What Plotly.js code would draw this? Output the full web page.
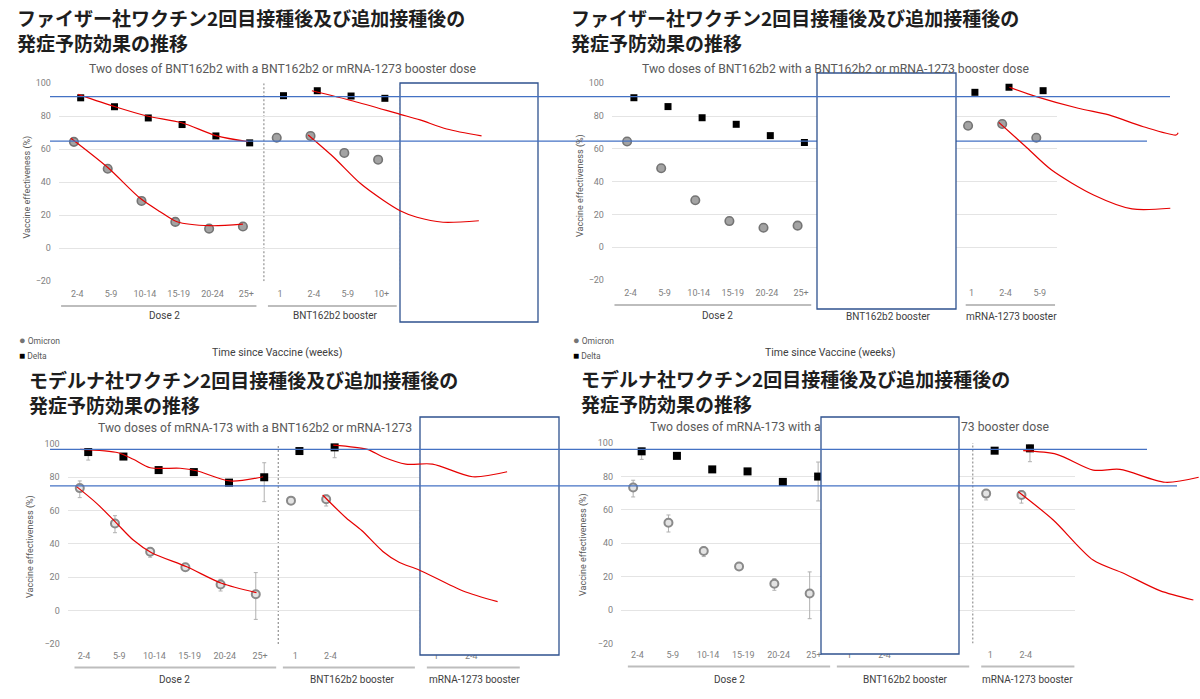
<!DOCTYPE html>
<html><head><meta charset="utf-8">
<script src="https://cdn.plot.ly/plotly-3.0.1.min.js"></script>
<style>html,body{margin:0;padding:0;background:#fff}#chart{width:1200px;height:699px}</style>
</head><body><div id="chart"></div>
<script>
// ================= DATA =================
const dose2Cats = ['2-4','5-9','10-14','15-19','20-24','25+'];
const bntBoosterCatsTop = ['1','2-4','5-9','10+'];
const mrnaBoosterCatsTop = ['1','2-4','5-9'];
const bntBoosterCatsBottom = ['1','2-4','',''];
const mrnaBoosterCatsBottom = ['1','2-4',''];
const groupNames = ['Dose 2','BNT162b2 booster','mRNA-1273 booster'];
const seriesNames = ['Omicron','Delta'];

// top charts: two doses of BNT162b2 (Dose 2, BNT162b2 booster, mRNA-1273 booster)
const omicronTop = [64.5,48.2,28.7,16.0,11.9,13.2, 67.0,68.1,57.8,53.7, 74.1,75.2,66.8];
const deltaTop   = [91.2,85.8,79.0,75.0,68.1,63.9, 92.5,95.5,92.3,90.9, 94.5,97.6,95.5];

// bottom charts: two doses of mRNA-1273
const omicronBottom   = [73.4,52.2,35.3,26.0,15.7,9.9, 65.9,66.7,null,null, 69.7,68.9,null];
const omicronBottomHi = [77.7,56.9,37.7,28.0,18.8,22.8, 68.0,69.3,null,null, 71.9,71.4,null];
const omicronBottomLo = [67.7,46.7,32.0,24.0,11.8,-5.2, 63.8,62.7,null,null, 65.9,64.0,null];
const deltaBottom     = [95.0,92.3,84.2,83.0,76.7,79.9, 95.6,97.8,null,null, 95.4,96.8,null];
const deltaBottomHi   = [97.0,93.5,85.5,84.2,78.0,88.6, 97.2,99.8,null,null, 97.0,98.8,null];
const deltaBottomLo   = [90.2,91.0,83.0,81.8,75.4,65.3, 94.0,91.6,null,null, 93.8,88.8,null];

// red hand-drawn trend curves (category-index units, VE %)
const p1RedDeltaX = [0.02,1.12,2.06,3.09,4.13,5.05];
const p1RedDeltaY = [93.3,85.8,80.2,76.1,68.1,64.6];
const p1RedOmiX = [-0.19,0.91,1.86,2.45,2.95,3.93,4.9];
const p1RedOmiY = [66.7,48.8,30.3,22.2,16.1,13.7,14.7];
const p1RedBoostDeltaX = [6.94,8.16,9.55,10.14,10.93,11.96];
const p1RedBoostDeltaY = [95.5,89.3,81.2,77.8,72.3,68.1];
const p1RedBoostOmiX = [6.83,7.57,8.37,9.04,9.55,10.05,10.82,11.88];
const p1RedBoostOmiY = [68.7,55.5,39.4,29.3,22.8,18.8,15.8,16.7];

const p2RedDeltaX = [11.11,11.9,13.13,14.03,15.04,16.0,16.06];
const p2RedDeltaY = [97.6,91.9,84.8,80.7,73.5,68.5,69.9];
const p2RedOmiX = [10.8,11.57,12.35,13.58,14.71,15.83];
const p2RedOmiY = [76.2,61.8,47.1,31.9,23.4,23.8];

const p3RedDeltaX = [-0.11,0.97,1.4,1.88,2.73,3.2,4.15,5.09];
const p3RedDeltaY = [96.6,94.6,90.7,85.6,85.3,83.8,77.7,80.2];
const p3RedOmiX = [-0.21,0.36,0.93,1.4,1.92,2.92,3.91,4.9];
const p3RedOmiY = [74.3,64.3,52.3,42.3,34.7,26.3,16.4,10.8];
const p3RedBoostDeltaX = [7.08,8.05,8.48,9.14,9.9,11.04,12.02];
const p3RedBoostDeltaY = [99.2,96.6,92.2,87.8,87.8,80.2,83.2];
const p3RedBoostOmiX = [6.78,7.45,7.89,8.49,8.95,9.52,10.77,11.75];
const p3RedBoostOmiY = [69.3,55.5,48.0,35.5,29.0,24.4,11.8,5.4];

const p4RedDeltaX = [10.93,11.88,12.91,13.67,14.95,15.9];
const p4RedDeltaY = [95.4,93.2,83.8,84.2,76.5,79.5];
const p4RedOmiX = [10.79,11.78,12.91,13.77,14.8,15.75];
const p4RedOmiY = [70.8,53.9,29.9,22.0,11.6,6.0];

// blue reference levels (VE %)
const topLevels = [91.9, 65.0];
const bottomLevels = [96.6, 74.7];

// text
const titlePfizer = 'ファイザー社ワクチン2回目接種後及び追加接種後の';
const titleModerna = 'モデルナ社ワクチン2回目接種後及び追加接種後の';
const titleLine2 = '発症予防効果の推移';
const subTop = 'Two doses of BNT162b2 with a BNT162b2 or mRNA-1273 booster dose';
const subBottomLeft = 'Two doses of mRNA-173 with a BNT162b2 or mRNA-1273';
const subBottomRightA = 'Two doses of mRNA-173 with a';
const subBottomRightB = '73 booster dose';
const yTitle = 'Vaccine effectiveness (%)';
const xTitle = 'Time since Vaccine (weeks)';

// ================= GEOMETRY (pixels) =================
const W = 1200, H = 699;
const G = {
  p1:{c0:77.3, s:33.8, L:58.7, R:499.8, y0:248.3, k:1.65, oL:45, oT:55, oB:345, sep:[5.52,9.56]},
  p2:{c0:630.5,s:34.1, L:611.7,R:1056.8,y0:247.3, k:1.64, oL:600,oT:55, oB:345, sep:[5.52,9.5]},
  p3:{c0:84,   s:35.2, L:67.5, R:520.5, y0:610.7, k:1.67, oL:45, oT:410,oB:699, sep:[5.52,9.56]},
  p4:{c0:637.4,s:35.3, L:620.8,R:1075.1,y0:610.0, k:1.67, oL:600,oT:410,oB:699, sep:[5.5,9.5]}
};
const dx = (g,px)=>(px-g.c0)/g.s;
const dy = (g,py)=>(g.y0-py)/g.k;
const pyOf = (g,v)=>g.y0 - g.k*v;

const FONT = 'Roboto, "Noto Sans", sans-serif';
const JFONT = '"Noto Sans CJK JP", "Noto Sans", sans-serif';

const catsTop = dose2Cats.concat(bntBoosterCatsTop, mrnaBoosterCatsTop);
const catsBottom = dose2Cats.concat(bntBoosterCatsBottom, mrnaBoosterCatsBottom);
const idx = catsTop.map((_,i)=>i);

function mainX(g, cats, anchor, ticklen){
  return {domain:[g.L/W, g.R/W], range:[dx(g,g.L), dx(g,g.R)], anchor:anchor,
    tickmode:'array', tickvals:cats.map((_,i)=>i), ticktext:cats,
    showgrid:false, zeroline:false, showline:false,
    ticks:'outside', ticklen:ticklen, tickcolor:'rgba(0,0,0,0)',
    tickfont:{family:FONT, size:9, color:'#7f7f7f'}, fixedrange:true};
}
function mainY(g, anchor){
  const T = pyOf(g,100), B = pyOf(g,-20);
  return {domain:[1-B/H, 1-T/H], range:[-20,100], anchor:anchor,
    tickmode:'array', tickvals:[-20,0,20,40,60,80,100],
    showgrid:true, gridcolor:'#e4e4e4', gridwidth:1, zeroline:false, showline:false,
    ticks:'outside', ticklen:5, tickcolor:'rgba(0,0,0,0)',
    tickfont:{family:FONT, size:9, color:'#7f7f7f'}, fixedrange:true};
}
function ovX(g, anchor){ return {domain:[g.oL/W, 1], range:[dx(g,g.oL), dx(g,W)], anchor:anchor, visible:false, fixedrange:true}; }
function ovY(g, anchor){ return {domain:[1-g.oB/H, 1-g.oT/H], range:[dy(g,g.oB), dy(g,g.oT)], anchor:anchor, visible:false, fixedrange:true}; }

// ================= TRACES =================
const OFF = 0.1;
const OMI_TOP = {fill:'#a3a3a3', line:'#747474'};
const traces = [];
function topPoints(xa, ya){
  traces.push({type:'scatter', mode:'markers', name:seriesNames[0], x:idx.map(i=>i-OFF), y:omicronTop,
    xaxis:xa, yaxis:ya, showlegend:false, cliponaxis:false,
    marker:{symbol:'circle', size:8.5, color:OMI_TOP.fill, line:{color:OMI_TOP.line, width:1.6}}});
  traces.push({type:'scatter', mode:'markers', name:seriesNames[1], x:idx.map(i=>i+OFF), y:deltaTop,
    xaxis:xa, yaxis:ya, showlegend:false, cliponaxis:false,
    marker:{symbol:'square', size:7, color:'#000000'}});
}
function err(v, hi, lo){
  return {type:'data', symmetric:false, array:v.map((d,i)=>d==null?null:hi[i]-d),
    arrayminus:v.map((d,i)=>d==null?null:d-lo[i]), color:'#b0b0b0', thickness:1, width:2};
}
function bottomPoints(xa, ya){
  traces.push({type:'scatter', mode:'markers', name:seriesNames[0], x:idx.map(i=>i-0.12), y:omicronBottom,
    xaxis:xa, yaxis:ya, showlegend:false, cliponaxis:false,
    error_y:err(omicronBottom, omicronBottomHi, omicronBottomLo),
    marker:{symbol:'circle', size:8, color:'#e3e3e3', line:{color:'#8a8a8a', width:2}}});
  traces.push({type:'scatter', mode:'markers', name:seriesNames[1], x:idx.map(i=>i+0.12), y:deltaBottom,
    xaxis:xa, yaxis:ya, showlegend:false, cliponaxis:false,
    error_y:err(deltaBottom, deltaBottomHi, deltaBottomLo),
    marker:{symbol:'square', size:8, color:'#000000'}});
}
function red(x, y, xa, ya){
  traces.push({type:'scatter', mode:'lines', x:x, y:y, xaxis:xa, yaxis:ya, showlegend:false,
    hoverinfo:'skip', line:{color:'#e60000', width:1.2, shape:'spline', smoothing:0.8}});
}
topPoints('x','y');
topPoints('x2','y2');
bottomPoints('x3','y3');
bottomPoints('x4','y4');
red(p1RedDeltaX,p1RedDeltaY,'x5','y5'); red(p1RedOmiX,p1RedOmiY,'x5','y5');
red(p1RedBoostDeltaX,p1RedBoostDeltaY,'x5','y5'); red(p1RedBoostOmiX,p1RedBoostOmiY,'x5','y5');
red(p2RedDeltaX,p2RedDeltaY,'x6','y6'); red(p2RedOmiX,p2RedOmiY,'x6','y6');
red(p3RedDeltaX,p3RedDeltaY,'x7','y7'); red(p3RedOmiX,p3RedOmiY,'x7','y7');
red(p3RedBoostDeltaX,p3RedBoostDeltaY,'x7','y7'); red(p3RedBoostOmiX,p3RedBoostOmiY,'x7','y7');
red(p4RedDeltaX,p4RedDeltaY,'x8','y8'); red(p4RedOmiX,p4RedOmiY,'x8','y8');

// ================= SHAPES =================
const shapes = [];
function groupLine(xa, a, b, py){
  shapes.push({type:'line', xref:xa, yref:'paper', x0:a, x1:b, y0:1-py/H, y1:1-py/H, layer:'below',
    line:{color:'#bdbdbd', width:2}});
}
groupLine('x',-0.48,5.3,306); groupLine('x',5.64,9.45,306); groupLine('x',9.8,12.45,306);
groupLine('x2',-0.47,5.3,305); groupLine('x2',5.64,9.45,305); groupLine('x2',9.83,12.45,305);
groupLine('x3',-0.27,5.46,667.5); groupLine('x3',5.65,9.4,667.5); groupLine('x3',9.74,12.38,667.5);
groupLine('x4',-0.27,5.46,666.5); groupLine('x4',5.65,9.4,666.5); groupLine('x4',9.74,12.38,666.5);
[['',G.p1],['2',G.p2],['3',G.p3],['4',G.p4]].forEach(([n,g])=>{
  g.sep.forEach(v=>{
    shapes.push({type:'line', xref:'x'+n, yref:'y'+n, x0:v, x1:v, y0:-20, y1:100, layer:'below',
      line:{color:'#9a9a9a', width:1.3, dash:'2px,2px'}});
  });
});
function box(g, ax, x0, y0, x1, y1){
  shapes.push({type:'rect', xref:'x'+ax, yref:'y'+ax, layer:'below',
    x0:dx(g,x0), x1:dx(g,x1), y0:dy(g,y1), y1:dy(g,y0),
    fillcolor:'#ffffff', line:{color:'#2f528f', width:1.3}});
}
const BLUE = '#4472c4';
box(G.p1, '5', 400, 83, 538, 322);
(function(){
  const py = pyOf(G.p1, topLevels[1]);
  shapes.push({type:'line', xref:'x6', yref:'y6', layer:'below', x0:dx(G.p2,600), x1:dx(G.p2,1147),
    y0:dy(G.p2,py), y1:dy(G.p2,py), line:{color:BLUE, width:1.2}});
})();
box(G.p2, '6', 817, 73, 956, 309);
box(G.p3, '7', 420, 417, 559, 655);
box(G.p4, '8', 821, 417, 959, 654);
shapes.push({type:'line', xref:'paper', yref:'y', x0:50/W, x1:1170/W, y0:topLevels[0], y1:topLevels[0], layer:'above', line:{color:BLUE, width:1.2}});
shapes.push({type:'line', xref:'paper', yref:'y', x0:50/W, x1:600/W, y0:topLevels[1], y1:topLevels[1], layer:'above', line:{color:BLUE, width:1.2}});
shapes.push({type:'line', xref:'paper', yref:'y3', x0:50/W, x1:1147/W, y0:bottomLevels[0], y1:bottomLevels[0], layer:'above', line:{color:BLUE, width:1.2}});
shapes.push({type:'line', xref:'paper', yref:'y3', x0:50/W, x1:1177/W, y0:bottomLevels[1], y1:bottomLevels[1], layer:'above', line:{color:BLUE, width:1.2}});

// ================= ANNOTATIONS =================
const annotations = [];
function ann(text, x, y, o){
  annotations.push(Object.assign({text:text, x:x/W, y:1-y/H, xref:'paper', yref:'paper', showarrow:false,
    xanchor:'center', yanchor:'middle', font:{family:FONT, size:10, color:'#404040'}}, o||{}));
}
const tF = {family:JFONT, size:19, color:'#1e1e1e'};
function title(line1, x, yMid){
  ann('<b>'+line1+'</b><br><b>'+titleLine2+'</b>', x, yMid, {xanchor:'left', align:'left', font:tF});
}
title(titlePfizer, 15, 29.5);
title(titlePfizer, 569, 29.5);
title(titleModerna, 27, 391.7);
title(titleModerna, 579, 390.7);

const sF = {family:FONT, size:12.2, color:'#595959'};
ann(subTop, 283, 69, {font:sF});
ann(subTop, 836, 69, {font:sF});
ann(subBottomLeft, 96, 428, {xanchor:'left', font:sF});
ann(subBottomRightA, 648, 427, {xanchor:'left', font:sF});
ann(subBottomRightB, 959, 427, {xanchor:'left', font:sF});

const yF = {family:FONT, size:9, color:'#595959'};
ann(yTitle, 26.5, 187, {textangle:-90, font:yF});
ann(yTitle, 580, 186, {textangle:-90, font:yF});
ann(yTitle, 30, 547, {textangle:-90, font:yF});
ann(yTitle, 583, 545, {textangle:-90, font:yF});

const xF = {family:FONT, size:10.5, color:'#404040'};
ann(xTitle, 277, 352, {font:xF});
ann(xTitle, 830, 352, {font:xF});

const gF = {family:FONT, size:10, color:'#404040'};
ann(groupNames[0], 164, 316, {font:gF});
ann(groupNames[1], 335, 316, {font:gF});
ann(groupNames[0], 717, 315.5, {font:gF});
ann(groupNames[1], 888, 316.5, {font:gF});
ann(groupNames[2], 1011, 316.5, {font:gF});
ann(groupNames[0], 174, 679, {font:gF});
ann(groupNames[1], 352, 679, {font:gF});
ann(groupNames[2], 474, 679, {font:gF});
ann(groupNames[0], 729, 679, {font:gF});
ann(groupNames[1], 905, 679, {font:gF});
ann(groupNames[2], 1027, 679, {font:gF});

// series keys under the top charts
const lF = {family:FONT, size:8.5, color:'#595959'};
[[17,340.5],[571,340.5]].forEach(([x,y])=>{
  ann('<span style="color:'+OMI_TOP.line+';font-size:11px">●</span> '+seriesNames[0], x, y, {xanchor:'left', font:lF});
  ann('<span style="color:#000;font-size:10px">■</span> '+seriesNames[1], x, y+15, {xanchor:'left', font:lF});
});

// ================= LAYOUT =================
const layout = {
  width:W, height:H, margin:{l:0,r:0,t:0,b:0}, paper_bgcolor:'#ffffff', plot_bgcolor:'rgba(0,0,0,0)',
  showlegend:false,
  xaxis:mainX(G.p1, catsTop, 'y', 4),  yaxis:mainY(G.p1, 'x'),
  xaxis2:mainX(G.p2, catsTop, 'y2', 4), yaxis2:mainY(G.p2, 'x2'),
  xaxis3:mainX(G.p3, catsBottom, 'y3', 3), yaxis3:mainY(G.p3, 'x3'),
  xaxis4:mainX(G.p4, catsBottom, 'y4', 3), yaxis4:mainY(G.p4, 'x4'),
  xaxis5:ovX(G.p1,'y5'), yaxis5:ovY(G.p1,'x5'),
  xaxis6:ovX(G.p2,'y6'), yaxis6:ovY(G.p2,'x6'),
  xaxis7:ovX(G.p3,'y7'), yaxis7:ovY(G.p3,'x7'),
  xaxis8:ovX(G.p4,'y8'), yaxis8:ovY(G.p4,'x8'),
  shapes:shapes, annotations:annotations, hovermode:false
};
Plotly.newPlot('chart', traces, layout, {staticPlot:true, displayModeBar:false});
</script>
</body></html>
